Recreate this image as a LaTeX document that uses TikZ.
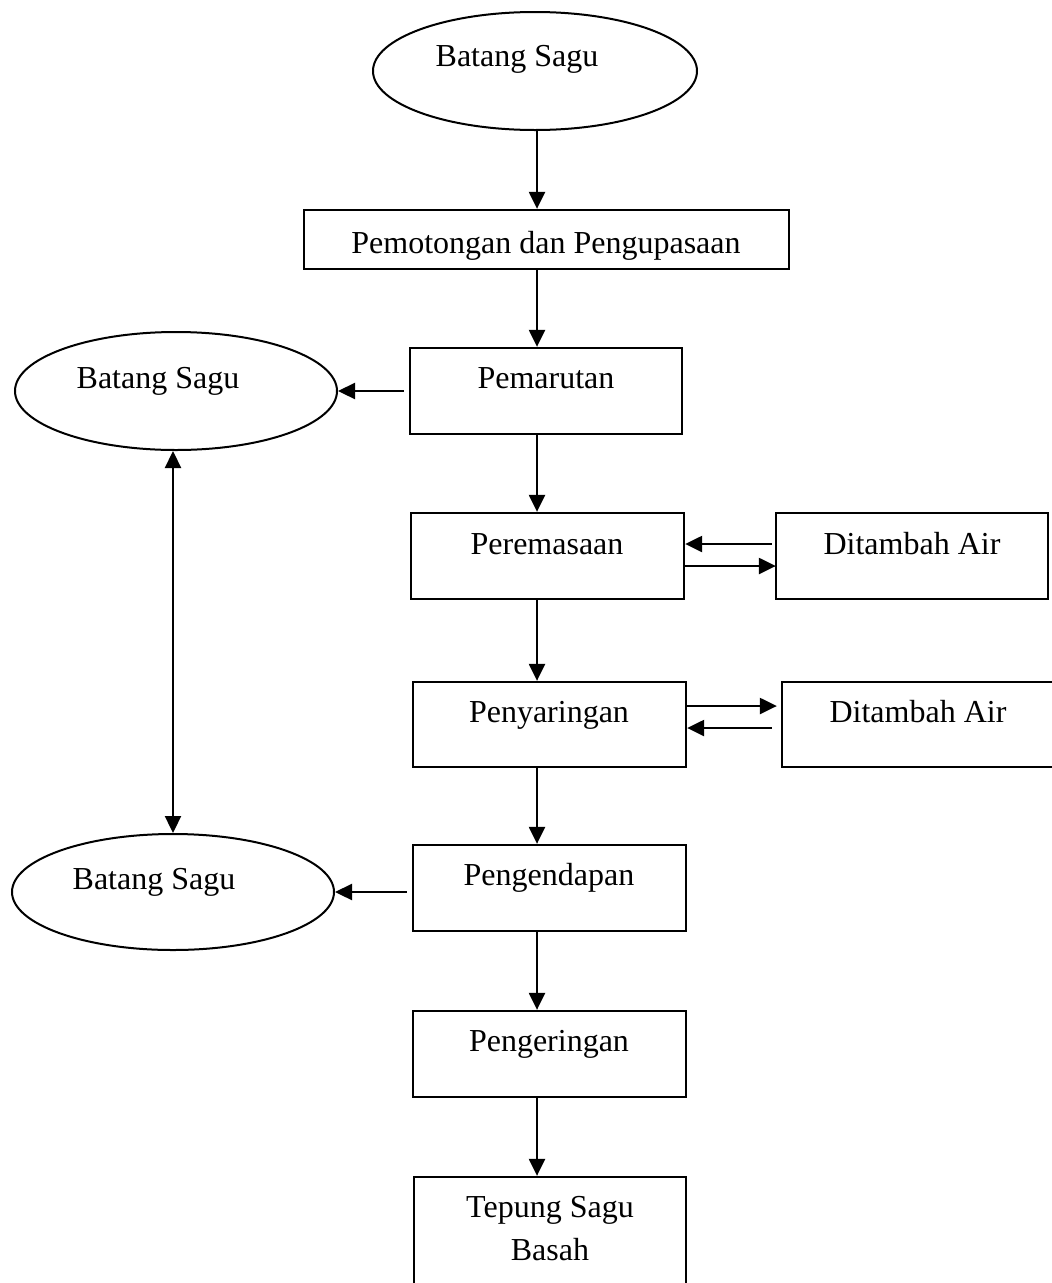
\documentclass[tikz,border=0pt]{standalone}
\usepackage{fontspec}
\setmainfont{Liberation Serif}
\usetikzlibrary{arrows.meta,shapes.geometric,calc}
\begin{document}
\begin{tikzpicture}[x=1pt,y=-1pt,
  box/.style={draw,line width=2.3pt,rectangle,inner sep=0pt},
  oval/.style={draw,line width=2pt,ellipse,inner sep=0pt},
  lbl/.style={anchor=base,inner sep=0pt,font=\fontsize{32}{43}\selectfont},
  arr/.style={line width=2.3pt,-{Triangle[length=17pt,width=16pt]}},
  both/.style={line width=2.3pt,{Triangle[length=17pt,width=16pt]}-{Triangle[length=17pt,width=16pt]}}]
\clip (0,0) rectangle (1052,1283);
\fill[white] (0,0) rectangle (1052,1283);
% ovals
\node[oval,minimum width=324pt,minimum height=118pt] (e1) at (535,71) {};
\node[lbl] (t1) at (517,66) {Batang Sagu};
\node[oval,minimum width=322pt,minimum height=118pt] (e2) at (176,391) {};
\node[lbl] (t2) at (158,388) {Batang Sagu};
\node[oval,minimum width=322pt,minimum height=116pt] (e3) at (173,892) {};
\node[lbl] (t3) at (154,889) {Batang Sagu};
% boxes
\node[box,minimum width=485pt,minimum height=59pt] (b1) at (546.5,239.5) {};
\node[lbl] at (546,253) {Pemotongan dan Pengupasaan};
\node[box,minimum width=272pt,minimum height=86pt] (b2) at (546,391) {};
\node[lbl] at (546,388) {Pemarutan};
\node[box,minimum width=273pt,minimum height=86pt] (b3) at (547.5,556) {};
\node[lbl] at (547,554) {Peremasaan};
\node[box,minimum width=272pt,minimum height=86pt] (d1) at (912,556) {};
\node[lbl] at (912,554) {Ditambah Air};
\node[box,minimum width=273pt,minimum height=85pt] (b4) at (549.5,724.5) {};
\node[lbl] at (549,722) {Penyaringan};
\node[box,minimum width=272pt,minimum height=85pt] (d2) at (918,724.5) {};
\node[lbl] at (918,722) {Ditambah Air};
\node[box,minimum width=273pt,minimum height=86pt] (b5) at (549.5,888) {};
\node[lbl] at (549,885) {Pengendapan};
\node[box,minimum width=273pt,minimum height=86pt] (b6) at (549.5,1054) {};
\node[lbl] at (549,1051) {Pengeringan};
\node[box,minimum width=272pt,minimum height=130pt] (b7) at (550,1242) {};
\node[lbl] at (550,1217) {\begin{tabular}[t]{@{}c@{}}Tepung Sagu\\Basah\end{tabular}};
% main column
\coordinate (col) at (537,0);
\draw[arr] (col |- e1.south) -- (col |- b1.north);
\draw[arr] (col |- b1.south) -- (col |- b2.north);
\draw[arr] (col |- b2.south) -- (col |- b3.north);
\draw[arr] (col |- b3.south) -- (col |- b4.north);
\draw[arr] (col |- b4.south) -- (col |- b5.north);
\draw[arr] (col |- b5.south) -- (col |- b6.north);
\draw[arr] (col |- b6.south) -- (col |- b7.north);
% side arrows
\draw[arr] ([xshift=-5pt]b2.west) -- (e2.east);
\draw[arr] ([xshift=-5pt]b5.west |- e3.east) -- (e3.east);
\draw[both] (173,0 |- e2.south) -- (173,0 |- e3.north);
\draw[arr] ([xshift=-3pt,yshift=12pt]d1.west) -- ([yshift=12pt]b3.east);
\draw[arr] ([yshift=-10pt]b3.east) -- ([xshift=1pt,yshift=-10pt]d1.west);
\draw[arr] ([yshift=18.5pt]b4.east) -- ([xshift=-4pt,yshift=18.5pt]d2.west);
\draw[arr] ([xshift=-9pt,yshift=-3.5pt]d2.west) -- ([yshift=-3.5pt]b4.east);
\end{tikzpicture}
\end{document}
